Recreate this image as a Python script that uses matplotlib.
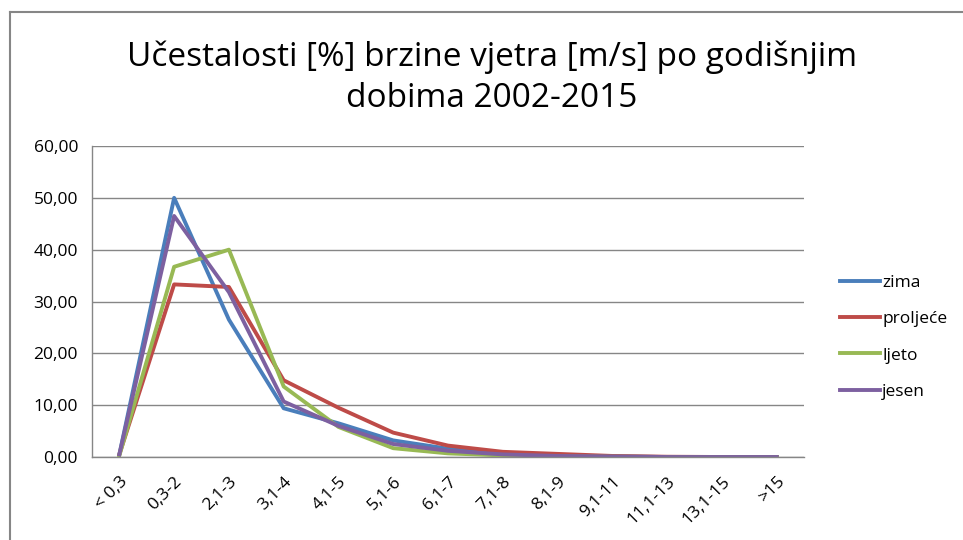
import numpy as np
import matplotlib
matplotlib.use("Agg")
import matplotlib.pyplot as plt
from matplotlib.lines import Line2D
from matplotlib.ticker import FuncFormatter

categories = ["< 0,3", "0,3-2", "2,1-3", "3,1-4", "4,1-5", "5,1-6", "6,1-7",
              "7,1-8", "8,1-9", "9,1-11", "11,1-13", "13,1-15", ">15"]
zima = [0.5, 50.0, 26.5, 9.4, 6.5, 3.2, 1.6, 0.6, 0.3, 0.1, 0.0, 0.0, 0.0]
proljece = [0.5, 33.3, 32.8, 14.8, 9.5, 4.7, 2.2, 1.0, 0.6, 0.2, 0.05, 0.0, 0.0]
ljeto = [0.3, 36.7, 40.0, 13.6, 5.8, 1.7, 0.7, 0.3, 0.1, 0.05, 0.0, 0.0, 0.0]
jesen = [0.5, 46.5, 31.8, 10.7, 6.0, 2.5, 1.2, 0.5, 0.2, 0.1, 0.0, 0.0, 0.0]

series = [("zima", zima, "#4A7EBB"), ("proljeće", proljece, "#BE4B48"),
          ("ljeto", ljeto, "#98B954"), ("jesen", jesen, "#7D60A0")]

plt.rcParams['font.family'] = ['Open Sans', 'DejaVu Sans']

fig = plt.figure(figsize=(9.63, 5.4), dpi=100)
ax = fig.add_axes([0.0955, 0.1537, 0.7395, 0.5759])

x = np.arange(len(categories))
for name, vals, col in series:
    ax.plot(x, vals, color=col, lw=2.8, label=name, solid_joinstyle="round")

ax.set_xlim(-0.5, len(categories) - 0.5)
ax.set_ylim(0, 60)
ax.set_yticks(np.arange(0, 61, 10))
ax.yaxis.set_major_formatter(FuncFormatter(lambda v, p: f"{v:.2f}".replace(".", ",")))
ax.set_xticks(x)
ax.set_xticklabels(categories, rotation=45, ha="right", rotation_mode="anchor")
ax.tick_params(axis="both", length=0, labelsize=12.5, colors="black")
ax.tick_params(axis="y", pad=10)
ax.tick_params(axis="x", pad=12)
ax.grid(axis="y", color="#868686", lw=1)
ax.set_axisbelow(True)
for s in ["top", "right"]:
    ax.spines[s].set_visible(False)
for s in ["left", "bottom"]:
    ax.spines[s].set_color("#868686")
    ax.spines[s].set_linewidth(1)

ax.legend(loc="upper left", bbox_to_anchor=(1.029, 0.635), frameon=False,
          fontsize=12.5, handlelength=2.3, handletextpad=0.1, labelspacing=1.15)

fig.text(492 / 963, 1 - 78 / 540,
         "Učestalosti [%] brzine vjetra [m/s] po godišnjim\ndobima 2002-2015",
         ha="center", va="center", fontsize=24, linespacing=1.3)

# outer chart frame
fig.add_artist(Line2D([9.5 / 963, 962 / 963], [1 - 12 / 540, 1 - 12 / 540],
                      transform=fig.transFigure, color="#868686", lw=1.5))
fig.add_artist(Line2D([9.5 / 963, 9.5 / 963], [1 - 12 / 540, 0],
                      transform=fig.transFigure, color="#868686", lw=1.5))

fig.savefig("out.png", dpi=100)
